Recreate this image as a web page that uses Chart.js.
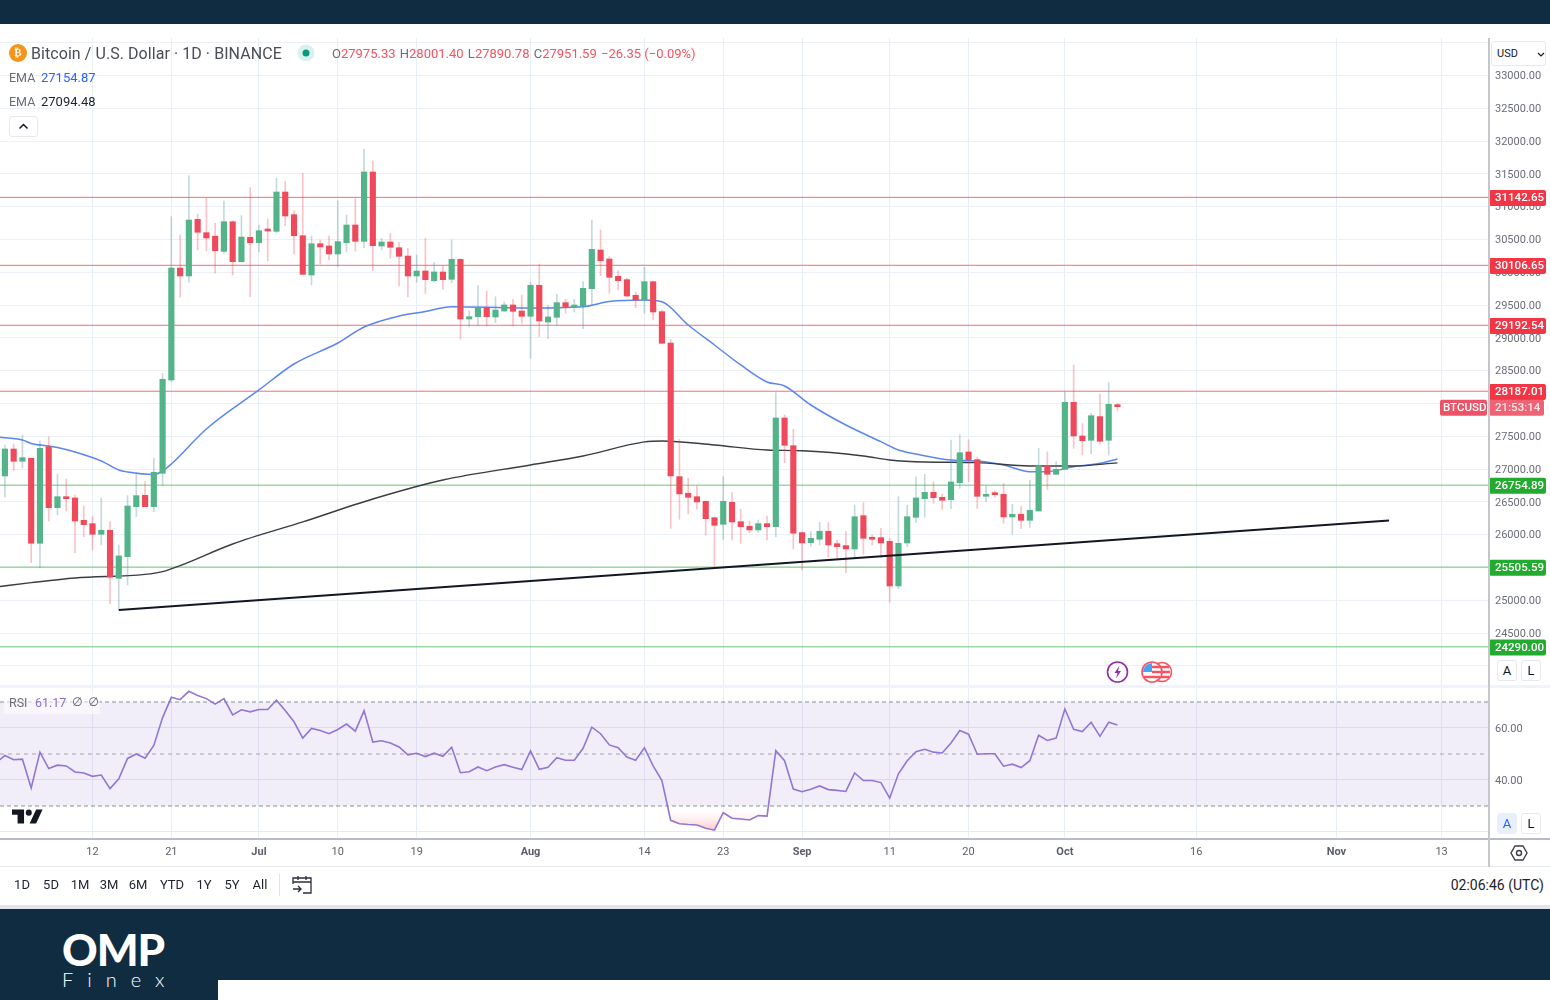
<!DOCTYPE html>
<html>
<head>
<meta charset="utf-8">
<title>BTCUSD</title>
<script src="https://cdn.jsdelivr.net/npm/chart.js@4/dist/chart.umd.min.js"></script>
<style>
html, body { margin: 0; padding: 0; background: #fff; }
body { width: 1550px; height: 1000px; position: relative; overflow: hidden; font-family: Roboto, sans-serif; color: #131722; }
canvas { position: absolute; left: 0; }
.abs { position: absolute; white-space: nowrap; }
.navy { background: #0f2c41; }
.btn { position: absolute; border: 1px solid #e6e8ee; border-radius: 3px; background: #fff; text-align: center; box-sizing: border-box; font-size: 13px; line-height: 20px; }
.range { position: absolute; top: 877px; font-size: 13px; line-height: 16px; transform: translateX(-50%); color: #1e222d; }
.red { color: #f7525f; }
.grey { color: #6a6d78; }
</style>
</head>
<body>
<div class="abs navy" style="left:0;top:0;width:1550px;height:24px"></div>

<canvas id="priceChart" width="1550" height="648" style="top:38px"></canvas>
<canvas id="rsiChart" width="1550" height="180" style="top:686px"></canvas>

<!-- frame lines -->
<div class="abs" style="left:0;top:685px;width:1550px;height:3px;background:#f0f3fa"></div>
<div class="abs" style="left:0;top:838px;width:1550px;height:2px;background:#b8bbc4"></div>
<div class="abs" style="left:0;top:866px;width:1550px;height:1px;background:#e6e8ee"></div>
<div class="abs" style="left:1488px;top:38px;width:2px;height:829px;background:#c4c6cc"></div>

<!-- legend -->
<svg class="abs" style="left:9px;top:44px" width="18" height="18" viewBox="0 0 18 18"><circle cx="9" cy="9" r="9" fill="#f7931a"/></svg>
<div class="abs" style="left:9px;top:44px;width:18px;text-align:center;font:bold 11px/18px 'DejaVu Sans';color:#fff">₿</div>
<div class="abs" style="left:31px;top:44px;font-size:16px;line-height:20px;color:#4a4d57;letter-spacing:0.06px">Bitcoin / U.S. Dollar · 1D · BINANCE</div>
<svg class="abs" style="left:297px;top:44px" width="18" height="18"><circle cx="9" cy="9" r="8.5" fill="#dcf1ed"/><circle cx="9" cy="9" r="3.5" fill="#089981"/></svg>
<div class="abs" style="left:332px;top:45px;font-size:13px;line-height:18px">
<span class="grey">O</span><span class="red">27975.33</span>
<span class="grey" style="margin-left:1px">H</span><span class="red">28001.40</span>
<span class="grey" style="margin-left:1px">L</span><span class="red">27890.78</span>
<span class="grey" style="margin-left:1px">C</span><span class="red">27951.59</span>
<span class="red" style="margin-left:1px">−26.35 (−0.09%)</span>
</div>
<div class="abs grey" style="left:9px;top:69px;font-size:12.5px;line-height:17px">EMA</div>
<div class="abs" style="left:41px;top:69px;font-size:13px;line-height:17px;color:#2962ff">27154.87</div>
<div class="abs grey" style="left:9px;top:93px;font-size:12.5px;line-height:17px">EMA</div>
<div class="abs" style="left:41px;top:93px;font-size:13px;line-height:17px;color:#1e222d">27094.48</div>
<div class="btn" style="left:9px;top:116px;width:29px;height:21px">
<svg width="11" height="7" viewBox="0 0 11 7" style="margin-top:6px;display:block;margin-left:8px"><path d="M1.5 5.5 5.5 1.5 9.5 5.5" fill="none" stroke="#131722" stroke-width="1.5"/></svg>
</div>

<!-- price axis buttons -->
<div class="btn" style="left:1491px;top:41px;width:55px;height:25px;text-align:left;padding-left:5px;font-size:11px;line-height:23px">USD
<svg class="abs" style="left:45px;top:10px" width="8" height="5"><path d="M1 1 4 4 7 1" fill="none" stroke="#131722" stroke-width="1.2"/></svg></div>
<div class="btn" style="left:1497px;top:660px;width:20px;height:21px">A</div>
<div class="btn" style="left:1521px;top:660px;width:20px;height:21px">L</div>
<div class="btn" style="left:1497px;top:813px;width:20px;height:21px;background:#e8f0fe;border-color:#e8f0fe;color:#2962ff">A</div>
<div class="btn" style="left:1521px;top:813px;width:20px;height:21px">L</div>

<!-- event marks -->
<svg class="abs" style="left:1105px;top:660px" width="70" height="24" viewBox="0 0 70 24">
<circle cx="12.5" cy="12" r="10" fill="#fff" stroke="#9c27b0" stroke-width="1.6"/>
<path d="M14.5 5.5 9.5 13h3l-1.5 5.5L16 11h-3z" fill="#9c27b0"/>
<circle cx="57" cy="12" r="9.5" fill="#fff" stroke="#f7525f" stroke-width="1.6"/>
<path d="M50 7h14M49 12h16M50 17h14" stroke="#f7525f" stroke-width="2.4"/>
<circle cx="47" cy="12" r="10" fill="#fff" stroke="#f7525f" stroke-width="1.6"/>
<path d="M47 7h9M47 12h10M39 17h16" stroke="#f7525f" stroke-width="2.4"/>
<path d="M38 12a9 9 0 0 1 9-9v9z" fill="#42a5f5"/>
</svg>

<!-- rsi legend -->
<div class="abs" style="left:4px;top:692px;width:96px;height:22px;background:rgba(255,255,255,.55)"></div>
<div class="abs grey" style="left:9px;top:694px;font-size:12.5px;line-height:17px">RSI</div>
<div class="abs" style="left:35px;top:694px;font-size:12.5px;line-height:17px;color:#8d6fd0">61.17</div>
<div class="abs" style="left:72px;top:694px;font:12px/17px 'DejaVu Sans';color:#5a5d68;word-spacing:2px">∅ ∅</div>
<svg class="abs" style="left:12px;top:809px" width="31" height="15" viewBox="0 6 36 16"><path d="M14 6H0v6h6.500v10H14V6Z M28 22h-7.500L28 6h7.500L28 22Z" fill="#131722"/><circle cx="19.500" cy="9.500" r="3.500" fill="#131722"/></svg>

<!-- gear -->
<svg class="abs" style="left:1510px;top:845px" width="18" height="16" viewBox="0 0 18 16"><path d="M5 1h8l4 7-4 7H5L1 8z" fill="none" stroke="#3d4048" stroke-width="1.400"/><circle cx="9" cy="8" r="2.500" fill="none" stroke="#3d4048" stroke-width="1.400"/></svg>

<!-- bottom toolbar -->
<div class="range" style="left:22px">1D</div>
<div class="range" style="left:51px">5D</div>
<div class="range" style="left:80px">1M</div>
<div class="range" style="left:109px">3M</div>
<div class="range" style="left:138px">6M</div>
<div class="range" style="left:172px">YTD</div>
<div class="range" style="left:204px">1Y</div>
<div class="range" style="left:232px">5Y</div>
<div class="range" style="left:260px">All</div>
<div class="abs" style="left:279px;top:874px;width:1px;height:22px;background:#e0e3eb"></div>
<svg class="abs" style="left:292px;top:875px" width="21" height="20" viewBox="0 0 21 20"><path d="M1 9V3h18v15h-8M1 7h18M6 1v4M14 1v4M1 14h8M6 11l3 3-3 3" fill="none" stroke="#2a2e39" stroke-width="1.300"/></svg>
<div class="abs" style="right:6px;top:876px;font-size:14px;line-height:18px;color:#1e222d">02:06:46 (UTC)</div>

<!-- footer band -->
<div class="abs" style="left:0;top:905px;width:1550px;height:4px;background:#e2e4ec"></div>
<div class="abs navy" style="left:0;top:909px;width:1550px;height:91px"></div>
<div class="abs" style="left:218px;top:980px;width:1332px;height:20px;background:#fff"></div>
<div class="abs" style="left:62px;top:924px;font:900 44px/50px Lato,sans-serif;color:#fff;letter-spacing:-1px">OMP</div>
<div class="abs" style="left:62px;top:968px;font:300 20px/22px Lato,sans-serif;color:#fff;letter-spacing:14px">Finex</div>

<script>
// days are counted from 1 Jun, so index 11 = 12 Jun
const tickDays = [11, 20, 30, 39, 48, 61, 74, 83, 92, 102, 111, 122, 137, 153, 165];
const tickLabels = ['12', '21', 'Jul', '10', '19', 'Aug', '14', '23', 'Sep', '11', '20', 'Oct', '16', 'Nov', '13'];
const monthLabels = ['Jul', 'Aug', 'Sep', 'Oct', 'Nov'];
const priceTicks = [24000, 24500, 25000, 25500, 26000, 26500, 27000, 27500, 28000, 28500, 29000, 29500, 30000, 30500, 31000, 31500, 32000, 32500, 33000, 33500];
const rsiTicks = [20, 40, 60];

const firstCandleDay = 1;
const opens = [
    26895, 27306, 27119, 27165, 25869, 27341, 26412, 26579, 26560, 26219,
    26168, 26006, 26067, 25335, 25665, 26427, 26600, 26427, 26936, 28358,
    30065, 29944, 30808, 30604, 30550, 30319, 30771, 30161, 30533, 30451,
    30645, 30625, 31224, 30879, 30558, 29959, 30436, 30401, 30279, 30451,
    30721, 30472, 31529, 30401, 30462, 30375, 30248, 29944, 30020, 29872,
    30005, 29893, 30198, 29288, 29323, 29460, 29318, 29410, 29502, 29410,
    29329, 29802, 29242, 29314, 29537, 29471, 29487, 29750, 30340, 30202,
    29939, 29888, 29650, 29578, 29857, 29400, 28922, 26885, 26631, 26579,
    26509, 26259, 26158, 26494, 26198, 26128, 26072, 26168, 26122, 27779,
    27357, 26031, 25878, 25930, 26052, 25863, 25833, 25782, 26290, 25960,
    25955, 25899, 25218, 25874, 26265, 26549, 26646, 26570, 26534, 26793,
    27261, 27144, 26585, 26621, 26616, 26270, 26311, 26219, 26361, 27052,
    26921, 26996, 28018, 27505, 27439, 27800, 27439, 27975.33,
];
const highs = [
    27367, 27383, 27520, 27170, 27429, 27494, 26925, 26849, 26605, 26437,
    26274, 26559, 26198, 25843, 26595, 26940, 26808, 27169, 28460, 30847,
    30568, 31472, 30889, 31127, 30747, 31087, 30786, 30863, 31290, 30721,
    30812, 31433, 31382, 30940, 31509, 30553, 30492, 30553, 31087, 30873,
    31127, 31875, 31701, 30518, 30594, 30457, 30365, 30264, 30518, 30152,
    30096, 30492, 30203, 29415, 29796, 29715, 29628, 29547, 29588, 29654,
    29850, 30126, 29502, 29664, 29588, 29588, 29857, 30797, 30645, 30238,
    30024, 29913, 29700, 30076, 29868, 29425, 28978, 27454, 26860, 26743,
    26514, 26270, 26884, 26640, 26387, 26209, 26224, 26285, 28164, 27825,
    27607, 26046, 26046, 26189, 26183, 25919, 26046, 26453, 26488, 25995,
    26097, 25945, 26579, 26448, 26880, 26920, 26803, 26621, 27444, 27520,
    27444, 27180, 26743, 26666, 26783, 26463, 26427, 26834, 27317, 27261,
    27113, 28175, 28587, 27692, 27850, 28145, 28322, 28001.40,
];
const lows = [
    26575, 26975, 27017, 25574, 25493, 26209, 26300, 26361, 25726, 25970,
    25767, 25843, 24944, 24852, 25234, 26274, 26427, 26351, 26758, 28332,
    29619, 29848, 30340, 30329, 29985, 30289, 29959, 30161, 29628, 30314,
    30176, 30604, 30710, 30279, 29969, 29807, 30126, 30187, 30085, 30314,
    30325, 30376, 30025, 30340, 30213, 29791, 29628, 29848, 29680, 29857,
    29741, 29842, 28983, 29171, 29181, 29181, 29232, 29400, 29181, 29222,
    28689, 29018, 28988, 29197, 29375, 29395, 29141, 29502, 29948, 29680,
    29730, 29628, 29461, 29375, 29273, 28907, 26097, 26234, 26316, 26387,
    25995, 25513, 25930, 25919, 25869, 26031, 26031, 25919, 25970, 27098,
    25778, 25462, 25828, 25843, 25665, 25640, 25421, 25640, 25701, 25843,
    25655, 24970, 25177, 25818, 26188, 26265, 26479, 26377, 26396, 26707,
    26808, 26402, 26503, 26570, 26173, 26006, 26092, 26113, 26361, 26692,
    26910, 26996, 27317, 27215, 27230, 27383, 27215, 27890.78,
];
const closes = [
    27306, 27119, 27174, 25869, 27317, 26412, 26579, 26549, 26209, 26153,
    26006, 26067, 25351, 25676, 26437, 26595, 26427, 26951, 28369, 30065,
    29944, 30797, 30610, 30523, 30329, 30771, 30161, 30538, 30451, 30634,
    30630, 31224, 30858, 30558, 29969, 30436, 30386, 30279, 30467, 30721,
    30472, 31529, 30406, 30462, 30381, 30244, 29944, 30020, 29888, 30005,
    29888, 30198, 29288, 29323, 29460, 29323, 29425, 29502, 29405, 29329,
    29802, 29258, 29319, 29537, 29476, 29497, 29756, 30350, 30176, 29924,
    29872, 29639, 29578, 29857, 29395, 28918, 26895, 26621, 26570, 26499,
    26244, 26143, 26509, 26194, 26122, 26072, 26168, 26122, 27779, 27363,
    26022, 25874, 25945, 26052, 25843, 25818, 25782, 26274, 25945, 25930,
    25874, 25218, 25869, 26274, 26560, 26646, 26564, 26524, 26803, 27250,
    27144, 26585, 26616, 26610, 26270, 26311, 26219, 26372, 27052, 26921,
    26996, 28018, 27505, 27433, 27814, 27424, 27988, 27951.59,
];

// the EMAs are read at their visible bends
const fastEmaDays = [0, 3, 4, 6, 7, 9, 12, 14, 15, 18, 19, 20, 24, 30, 34, 39, 42, 46, 49, 52, 60, 67, 70, 74, 76, 79, 82, 85, 88, 90, 93, 97, 101, 103, 105, 109, 112, 115, 118, 120, 123, 126, 128];
const fastEmaValues = [27490, 27444, 27391, 27352, 27329, 27261, 27124, 26986, 26956, 26918, 26971, 27078, 27611, 28206, 28602, 28922, 29166, 29334, 29403, 29476, 29456, 29476, 29555, 29578, 29552, 29197, 28892, 28587, 28328, 28267, 27977, 27672, 27418, 27291, 27230, 27139, 27124, 27063, 26961, 26961, 27037, 27088, 27154.87];
const slowEmaDays = [0, 4, 9, 17, 19, 21, 27, 35, 43, 51, 61, 67, 74, 76, 82, 88, 92, 99, 102, 106, 112, 118, 123, 128];
const slowEmaValues = [25203, 25269, 25340, 25394, 25437, 25528, 25858, 26194, 26544, 26834, 27063, 27200, 27414, 27429, 27368, 27291, 27280, 27200, 27139, 27108, 27098, 27047, 27047, 27094.48];

const trendDays = [14, 159];
const trendValues = [24852, 26216];

const redLevels = [31142.65, 30106.65, 29192.54, 28187.01];
const greenLevels = [26754.89, 25505.59, 24290.00];

const rsiValues = [
    46.7, 49.4, 47.8, 48.0, 36.9, 50.7, 44.4, 45.7, 45.4, 43.1, 42.7,
    41.4, 41.9, 36.7, 40.5, 48.3, 50.0, 48.4, 53.3, 64.0, 71.8,
    70.9, 74.1, 72.5, 71.3, 69.2, 71.3, 65.0, 67.0, 66.2, 67.1,
    67.1, 70.7, 66.7, 62.4, 56.1, 59.8, 59.0, 57.8, 59.4, 61.5,
    58.8, 66.7, 54.6, 55.1, 54.2, 52.7, 49.7, 50.3, 49.0, 50.3,
    49.1, 52.6, 42.8, 43.2, 45.0, 43.6, 45.0, 45.9, 44.9, 44.0,
    51.2, 44.1, 44.9, 48.6, 47.6, 47.6, 52.2, 60.3, 57.8, 53.5,
    52.4, 48.8, 47.6, 52.4, 45.4, 39.8, 24.5, 23.2, 22.9, 22.7,
    21.4, 20.7, 27.4, 25.3, 25.0, 24.6, 26.3, 26.1, 51.3, 47.4,
    36.5, 35.5, 36.4, 37.7, 36.3, 36.0, 35.6, 42.7, 39.8, 39.8,
    39.0, 33.0, 42.4, 47.4, 50.9, 51.8, 50.7, 50.4, 54.2, 59.0,
    57.6, 49.9, 50.1, 50.1, 45.3, 46.1, 44.8, 47.4, 57.2, 55.2,
    56.1, 67.3, 59.5, 58.6, 62.2, 56.8, 62.2, 61.17,
];
const rsiBands = [70, 50, 30];

const xMin = 0.44;
const xMax = 170.3;

const upColor = '#53b489';
const downColor = '#ef4a5c';
const axisFont = { family: 'Roboto', size: 11 };

Chart.defaults.font.family = 'Roboto';

const pairUp = (days, values) => days.map((d, i) => ({ x: d, y: values[i] }));
const flatLine = (value) => [{ x: xMin, y: value }, { x: xMax, y: value }];

const levelDatasets = (levels, color) => levels.map((value) => ({
    type: 'line',
    data: flatLine(value),
    borderColor: color,
    borderWidth: 1,
    pointRadius: 0,
    order: 5,
}));

const setDayTicks = (scale) => {
    scale.ticks = tickDays.map((d) => ({ value: d }));
};

const dayScale = (showLabels) => ({
    type: 'linear',
    min: xMin,
    max: xMax,
    offset: false, // bar charts turn this on by default
    afterBuildTicks: setDayTicks,
    afterFit: (scale) => {
        scale.height = showLabels ? 28 : 0;
        scale.paddingLeft = 0;
        scale.paddingRight = 0;
    },
    border: { display: false },
    grid: { color: '#e8eef5', drawTicks: false, offset: false },
    ticks: {
        display: showLabels,
        autoSkip: false,
        maxRotation: 0,
        padding: 8,
        color: '#5d606b',
        font: (ctx) => (ctx.tick && monthLabels.includes(ctx.tick.label)
            ? { family: 'Roboto', size: 11, weight: 'bold' }
            : axisFont),
        callback: (value) => tickLabels[tickDays.indexOf(value)],
    },
});

const valueScaleFit = (scale) => {
    scale.width = 62;
    scale.paddingTop = 0;
    scale.paddingBottom = 0;
};

// price tags sit on the axis, at the level they belong to
const drawTag = (ctx, y, x, w, fill, text, textColor, inset) => {
    ctx.fillStyle = fill;
    ctx.beginPath();
    ctx.roundRect(x, y - 8, w, 16, 2);
    ctx.fill();
    ctx.fillStyle = textColor;
    ctx.textBaseline = 'middle';
    ctx.textAlign = 'left';
    ctx.font = '500 11.5px Roboto';
    ctx.fillText(text, x + inset, y + 0.5);
};

const priceTags = {
    id: 'priceTags',
    afterDraw(chart) {
        const { ctx, scales } = chart;
        ctx.save();
        redLevels.forEach((v) => drawTag(ctx, scales.y.getPixelForValue(v) + 0.7, 1489, 57, '#f23645', v.toFixed(2), '#fff', 6));
        greenLevels.forEach((v) => drawTag(ctx, scales.y.getPixelForValue(v) + 0.7, 1489, 57, '#22ab2e', v.toFixed(2), '#fff', 6));
        const lastY = scales.y.getPixelForValue(closes[closes.length - 1]) + 1;
        drawTag(ctx, lastY, 1440, 47, '#ec5366', 'BTCUSD', '#fff', 3);
        drawTag(ctx, lastY, 1489, 55, '#ee6474', '21:53:14', '#fde5e8', 6);
        ctx.restore();
    },
};

new Chart(document.getElementById('priceChart'), {
    data: {
        datasets: [
            {
                type: 'line',
                data: pairUp(trendDays, trendValues),
                borderColor: '#131722',
                borderWidth: 2,
                pointRadius: 0,
                order: 0,
            },
            {
                type: 'bar',
                data: opens.map((o, i) => ({ x: firstCandleDay + i, y: [o, closes[i]] })),
                backgroundColor: opens.map((o, i) => (closes[i] >= o ? upColor : downColor)),
                barThickness: 5.5,
                minBarLength: 2,
                grouped: false,
                order: 1,
            },
            {
                type: 'bar',
                data: lows.map((l, i) => ({ x: firstCandleDay + i, y: [l, highs[i]] })),
                backgroundColor: opens.map((o, i) => (closes[i] >= o ? 'rgba(70,140,150,0.32)' : 'rgba(242,54,69,0.3)')),
                barThickness: 1,
                grouped: false,
                order: 2,
            },
            {
                type: 'line',
                data: pairUp(slowEmaDays, slowEmaValues),
                borderColor: '#3a3c42',
                borderWidth: 1.4,
                cubicInterpolationMode: 'monotone',
                pointRadius: 0,
                order: 3,
            },
            {
                type: 'line',
                data: pairUp(fastEmaDays, fastEmaValues),
                borderColor: '#5b86f2',
                borderWidth: 1.5,
                cubicInterpolationMode: 'monotone',
                pointRadius: 0,
                order: 4,
            },
            ...levelDatasets(redLevels, '#f56c78'),
            ...levelDatasets(greenLevels, '#6cc374'),
        ],
    },
    options: {
        responsive: false,
        animation: false,
        devicePixelRatio: 1,
        layout: { padding: 0 },
        plugins: { legend: { display: false }, tooltip: { enabled: false } },
        scales: {
            x: dayScale(false),
            y: {
                position: 'right',
                min: 23693,
                max: 33572,
                afterBuildTicks: (scale) => {
                    scale.ticks = priceTicks.map((v) => ({ value: v }));
                },
                afterFit: valueScaleFit,
                border: { display: false },
                grid: { color: '#ebf0f7', drawTicks: false },
                ticks: {
                    padding: 7,
                    labelOffset: 1,
                    color: '#6a6d78',
                    font: axisFont,
                    callback: (v) => (v > 24000 && v < 33500 ? v.toFixed(2) : ''),
                },
            },
        },
    },
    plugins: [priceTags],
});

const rsiCanvas = document.getElementById('rsiChart');
const pinkFade = rsiCanvas.getContext('2d').createLinearGradient(0, 120, 0, 146);
pinkFade.addColorStop(0, 'rgba(255,255,255,0)');
pinkFade.addColorStop(1, 'rgba(250,170,170,0.75)');

new Chart(rsiCanvas, {
    data: {
        datasets: [
            {
                type: 'line',
                data: rsiValues.map((v, i) => ({ x: i, y: v })),
                borderColor: '#9176d3',
                borderWidth: 1.6,
                pointRadius: 0,
                fill: { target: { value: 30 }, above: 'rgba(0,0,0,0)', below: pinkFade },
                order: 0,
            },
            ...rsiBands.map((v) => ({
                type: 'line',
                data: flatLine(v),
                borderColor: v === 50 ? '#a5a7ae' : '#8b8e96',
                borderWidth: 1,
                borderDash: v === 50 ? [4, 4] : [4, 3],
                pointRadius: 0,
                order: 1,
            })),
            {
                type: 'line',
                data: flatLine(rsiBands[0]),
                borderWidth: 0,
                pointRadius: 0,
                fill: { target: { value: rsiBands[2] }, above: 'rgba(126,87,194,0.1)', below: 'rgba(0,0,0,0)' },
                order: 2,
            },
        ],
    },
    options: {
        responsive: false,
        animation: false,
        devicePixelRatio: 1,
        layout: { padding: 0 },
        plugins: { legend: { display: false }, tooltip: { enabled: false } },
        scales: {
            x: dayScale(true),
            y: {
                position: 'right',
                min: 17.69,
                max: 76.15,
                afterBuildTicks: (scale) => {
                    scale.ticks = rsiTicks.map((v) => ({ value: v }));
                },
                afterFit: valueScaleFit,
                border: { display: false },
                grid: { color: '#e6e9f3', drawTicks: false },
                ticks: {
                    padding: 7,
                    labelOffset: 1,
                    color: '#6a6d78',
                    font: axisFont,
                    callback: (v) => (v === 20 ? '' : v.toFixed(2)),
                },
            },
        },
    },
});
</script>
</body>
</html>
